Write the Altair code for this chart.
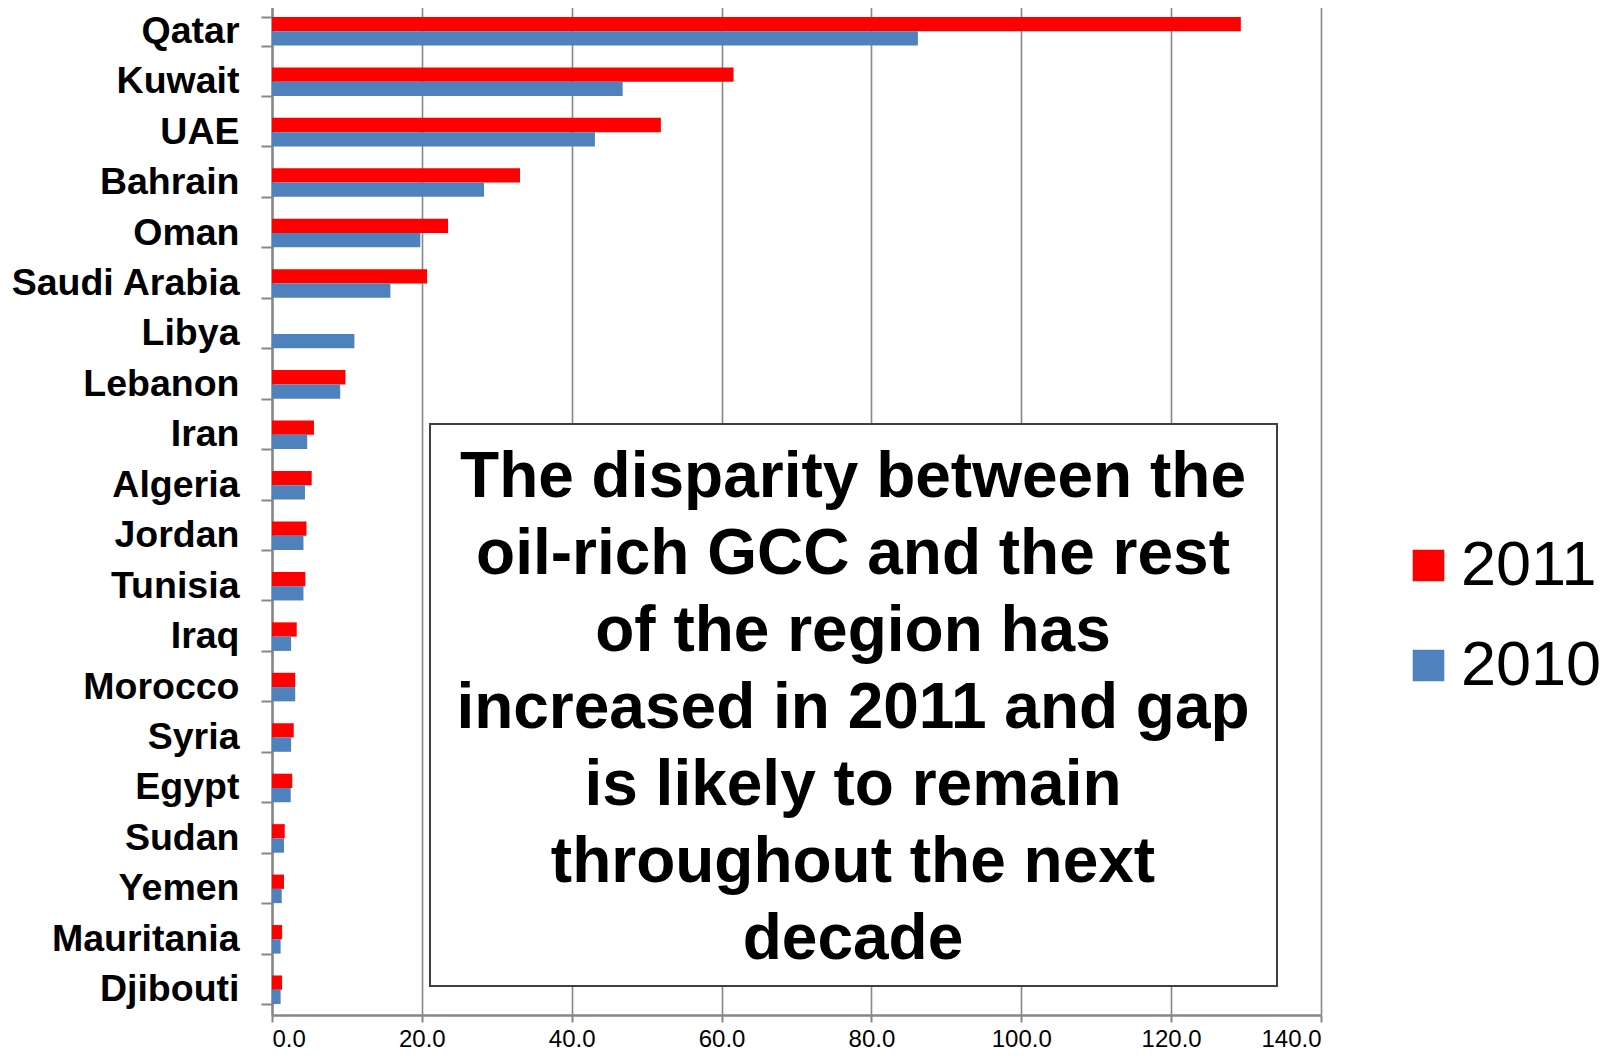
import altair as alt
import pandas as pd

countries = ["Qatar", "Kuwait", "UAE", "Bahrain", "Oman", "Saudi Arabia", "Libya",
             "Lebanon", "Iran", "Algeria", "Jordan", "Tunisia", "Iraq", "Morocco",
             "Syria", "Egypt", "Sudan", "Yemen", "Mauritania", "Djibouti"]
values_2011 = [129.3, 61.6, 51.9, 33.1, 23.5, 20.7, None,
               9.8, 5.6, 5.3, 4.6, 4.45, 3.3, 3.1,
               2.9, 2.7, 1.7, 1.6, 1.35, 1.35]
values_2010 = [86.2, 46.8, 43.1, 28.3, 19.8, 15.8, 11.0,
               9.1, 4.7, 4.4, 4.2, 4.2, 2.55, 3.1,
               2.55, 2.5, 1.6, 1.3, 1.15, 1.15]
years = ["2011", "2010"]
x_ticks = [0, 20, 40, 60, 80, 100, 120, 140]
note_lines = ["The disparity between the", "oil-rich GCC and the rest",
              "of the region has", "increased in 2011 and gap",
              "is likely to remain", "throughout the next", "decade"]

rows = []
for c, v11, v10 in zip(countries, values_2011, values_2010):
    rows.append({"country": c, "year": "2011", "value": v11})
    rows.append({"country": c, "year": "2010", "value": v10})
df = pd.DataFrame(rows)

FONT = "Liberation Sans, Arial, sans-serif"
GRID = "#878787"

bars = alt.Chart(df).mark_bar().encode(
    y=alt.Y("country:N", sort=countries,
            scale=alt.Scale(paddingInner=0.434, paddingOuter=0.217),
            axis=alt.Axis(title=None, labelFontSize=37.5, labelFontWeight="bold",
                          labelFont=FONT, labelColor="black", labelPadding=22,
                          labelLimit=0,
                          tickSize=11, tickColor=GRID, tickWidth=2, tickBand="extent",
                          domainColor=GRID, domainWidth=2.5, grid=False)),
    yOffset=alt.YOffset("year:N", sort=years, scale=alt.Scale(paddingInner=0, paddingOuter=0)),
    x=alt.X("value:Q", scale=alt.Scale(domain=[0, 140], nice=False),
            axis=alt.Axis(title=None, values=x_ticks, format=".1f", labelFontSize=24,
                          labelFont=FONT, labelColor="black", labelPadding=5,
                          tickSize=7, tickColor=GRID, tickWidth=2,
                          domainColor=GRID, domainWidth=2.5,
                          grid=True, gridColor=GRID, gridWidth=1.6)),
    color=alt.Color("year:N", sort=years,
                    scale=alt.Scale(domain=years, range=["#FF0000", "#4F81BD"]),
                    legend=alt.Legend(title=None, orient="none", legendX=1125, legendY=528,
                                      symbolType="square", symbolSize=1000,
                                      symbolStrokeWidth=0, labelFontSize=63,
                                      labelFont=FONT, labelColor="black",
                                      labelOffset=1, rowPadding=36, padding=0)),
)

box = alt.Chart(alt.Data(values=[{"k": 1}])).mark_rect(
    fill="white", stroke="#404040", strokeWidth=2
).encode(
    x=alt.value(158), x2=alt.value(1005), y=alt.value(418), y2=alt.value(980)
)

note = alt.Chart(alt.Data(values=[{"k": 1}])).mark_text(
    fontSize=64, fontWeight="bold", font=FONT, lineHeight=77,
    align="center", baseline="middle", color="black"
).encode(
    x=alt.value(581), y=alt.value(472), text=alt.value(note_lines)
)

chart = alt.layer(bars, box, note).properties(
    width=1049, height=1009,
    autosize=alt.AutoSizeParams(type="none"),
    padding={"left": 264, "top": -2, "right": 285, "bottom": 37},
).configure_view(stroke=None)

chart.save("out.html", embed_options={"renderer": "svg", "actions": False})
